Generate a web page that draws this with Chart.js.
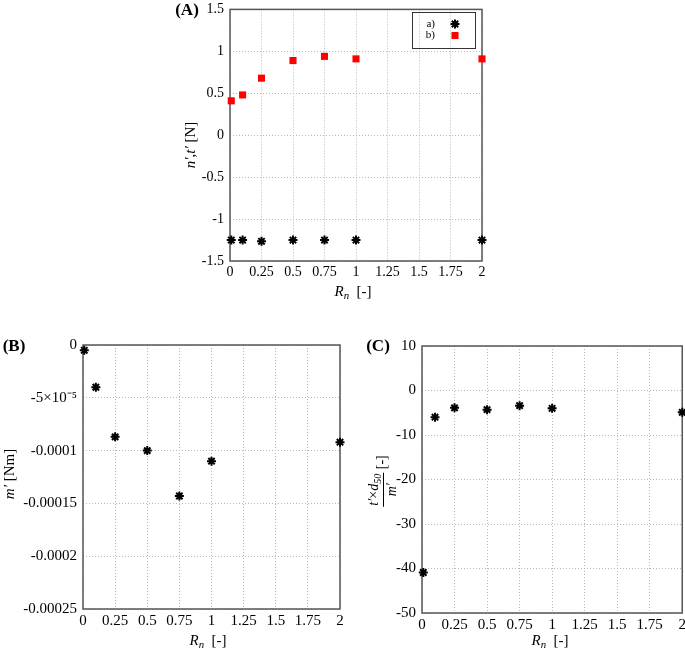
<!DOCTYPE html>
<html>
<head>
<meta charset="utf-8">
<script src="https://cdn.jsdelivr.net/npm/chart.js@4.4.0/dist/chart.umd.min.js"></script>
<style>
  body { margin: 0; background: #fff; }
  #fig { position: relative; width: 685px; height: 651px; overflow: hidden;
         font-family: 'Liberation Serif', 'Times New Roman', serif; color: #000; }
  #fig canvas { position: absolute; }
  .lbl { position: absolute; transform: translate(-50%, -50%); white-space: nowrap; font-size: 15px; line-height: 1; }
  .rot { transform: translate(-50%, -50%) rotate(-90deg); }
  .panel { font-weight: bold; font-size: 17px; }
  sub { font-size: 72%; vertical-align: -0.3em; line-height: 0; }
  .frac { display: inline-flex; flex-direction: column; align-items: center; vertical-align: middle; }
  .frac .num { border-bottom: 1px solid #000; padding: 0 1px 2px; }
  .frac .den { padding-top: 1px; }
</style>
</head>
<body>
<div id="fig">
  <canvas id="chartA" width="320" height="290" style="left:170px;top:-5px"></canvas>
  <canvas id="chartB" width="348" height="303" style="left:0;top:330px"></canvas>
  <canvas id="chartC" width="337" height="306" style="left:352px;top:331px"></canvas>

  <div class="lbl panel" style="left:187px;top:9px">(A)</div>
  <div class="lbl rot" style="left:190px;top:145px"><i>n′</i>,<i>t′</i> [N]</div>
  <div class="lbl" style="left:353px;top:291px"><i>R</i><sub><i>n</i></sub>&nbsp; [-]</div>

  <div class="lbl panel" style="left:14px;top:345px">(B)</div>
  <div class="lbl rot" style="left:9px;top:474px"><i>m′</i> [Nm]</div>
  <div class="lbl" style="left:208px;top:640px"><i>R</i><sub><i>n</i></sub>&nbsp; [-]</div>

  <div class="lbl panel" style="left:378px;top:345px">(C)</div>
  <div class="lbl rot" style="left:383px;top:481px;font-size:14px"><span class="frac"><span class="num"><i>t′</i>×<i>d</i><sub><i>50</i></sub></span><span class="den"><i>m′</i></span></span>&nbsp;[-]</div>
  <div class="lbl" style="left:550px;top:640px"><i>R</i><sub><i>n</i></sub>&nbsp; [-]</div>
</div>
<script>
// ! data
const rn = [0.01, 0.1, 0.25, 0.5, 0.75, 1, 2];
const seriesA = [-1.25, -1.25, -1.265, -1.25, -1.25, -1.25, -1.25];
const seriesB = [0.41, 0.48, 0.68, 0.89, 0.94, 0.91, 0.91];
const mPrime = [-0.000005, -0.00004, -0.000087, -0.0001, -0.000143, -0.00011, -0.000092];
const ratio = [-40.9, -6.0, -3.9, -4.3, -3.4, -4.0, -4.9];

// ! tick values / labels
const xTicks = [0, 0.25, 0.5, 0.75, 1, 1.25, 1.5, 1.75, 2];
const xTickLabels = ['0', '0.25', '0.5', '0.75', '1', '1.25', '1.5', '1.75', '2'];
const nTicks = [-1.5, -1, -0.5, 0, 0.5, 1, 1.5];
const nTickLabels = ['-1.5', '-1', '-0.5', '0', '0.5', '1', '1.5'];
const mTicks = [-0.00025, -0.0002, -0.00015, -0.0001, -0.00005, 0];
const mTickLabels = ['-0.00025', '-0.0002', '-0.00015', '-0.0001', '-5×10⁻⁵', '0'];
const rTicks = [-50, -40, -30, -20, -10, 0, 10];
const rTickLabels = ['-50', '-40', '-30', '-20', '-10', '0', '10'];

Chart.defaults.font.family = "'Liberation Serif', 'Times New Roman', serif";
Chart.defaults.color = '#000';

const pt = (xs, ys) => xs.map((x, i) => ({ x: x, y: ys[i] }));

// draw the full box round the plot (gnuplot style)
const frame = {
    id: 'frame',
    beforeDatasetsDraw(chart) {
        const { ctx, chartArea: a } = chart;
        ctx.save();
        ctx.strokeStyle = '#555';
        ctx.lineWidth = 1.5;
        ctx.strokeRect(a.left, a.top, a.right - a.left, a.bottom - a.top);
        ctx.restore();
    }
};

// boxed legend inside top right of plot A
const legendBox = {
    id: 'legendBox',
    afterDraw(chart) {
        const { ctx, chartArea } = chart;
        const x0 = Math.round(chartArea.right - 70), y0 = Math.round(chartArea.top + 3);
        ctx.save();
        ctx.strokeStyle = '#333';
        ctx.lineWidth = 1;
        ctx.strokeRect(x0 + 0.5, y0 + 0.5, 63, 36);
        ctx.font = "11px 'Liberation Serif'";
        ctx.textAlign = 'right';
        ctx.textBaseline = 'middle';
        chart.data.datasets.forEach((ds, i) => {
            const y = y0 + 12 + i * 11.5;
            ctx.fillStyle = '#000';
            ctx.fillText(ds.label, x0 + 23, y);
            ctx.fillStyle = ds.backgroundColor;
            ctx.strokeStyle = ds.borderColor;
            ctx.lineWidth = ds.borderWidth;
            Chart.helpers.drawPoint(ctx, {
                pointStyle: ds.pointStyle, radius: ds.pointRadius,
                borderWidth: ds.borderWidth, rotation: 0
            }, x0 + 43, y);
        });
        ctx.restore();
    }
};

function scales(yVals, yLabels, yWidth, fontSize) {
    const grid = { color: '#b8b8b8', lineWidth: 1, drawTicks: false };
    const border = { display: false, dash: [1, 2] };
    return {
        x: {
            type: 'linear', min: 0, max: 2,
            grid: grid, border: border,
            afterBuildTicks: s => { s.ticks = xTicks.map(v => ({ value: v })); },
            afterFit: s => { s.height = 24; },
            ticks: {
                autoSkip: false, maxRotation: 0, padding: 3,
                font: { size: fontSize },
                callback: (v, i) => xTickLabels[i]
            }
        },
        y: {
            type: 'linear', min: yVals[0], max: yVals[yVals.length - 1],
            grid: grid, border: border,
            afterBuildTicks: s => { s.ticks = yVals.map(v => ({ value: v })); },
            afterFit: s => { s.width = yWidth; },
            ticks: {
                autoSkip: false, padding: 6,
                font: { size: fontSize },
                callback: (v, i) => yLabels[i]
            }
        }
    };
}

const common = (padding) => ({
    responsive: false,
    animation: false,
    events: [],
    layout: { padding: padding },
    plugins: { legend: { display: false }, tooltip: { enabled: false } }
});

const starSet = (label, data) => ({
    label: label, data: data,
    pointStyle: 'star', pointRadius: 4.5, borderWidth: 2,
    borderColor: '#000', backgroundColor: '#000', clip: false
});

// ! plot A: n', t'
const aChart = new Chart(document.getElementById('chartA').getContext('2d'), {
    type: 'scatter',
    data: {
        datasets: [
            starSet('a)', pt(rn, seriesA)),
            {
                label: 'b)', data: pt(rn, seriesB),
                pointStyle: 'rect', pointRadius: 5, borderWidth: 0,
                borderColor: '#ff0000', backgroundColor: '#ff0000', clip: false
            }
        ]
    },
    options: Object.assign(common({ top: 9, right: 8, left: 0, bottom: 0 }),
        { scales: scales(nTicks, nTickLabels, 60, 14) }),
    plugins: [frame, legendBox]
});

// ! plot B: m'
const bChart = new Chart(document.getElementById('chartB').getContext('2d'), {
    type: 'scatter',
    data: { datasets: [starSet('m', pt(rn, mPrime))] },
    options: Object.assign(common({ top: 10, right: 8, left: 0, bottom: 0 }),
        { scales: scales(mTicks, mTickLabels, 83, 15) }),
    plugins: [frame]
});

// ! plot C: t' x d50 / m'
const cChart = new Chart(document.getElementById('chartC').getContext('2d'), {
    type: 'scatter',
    data: { datasets: [starSet('r', pt(rn, ratio))] },
    options: Object.assign(common({ top: 10, right: 3, left: 0, bottom: 0 }),
        { scales: scales(rTicks, rTickLabels, 70, 15) }),
    plugins: [frame]
});
</script>
</body>
</html>
